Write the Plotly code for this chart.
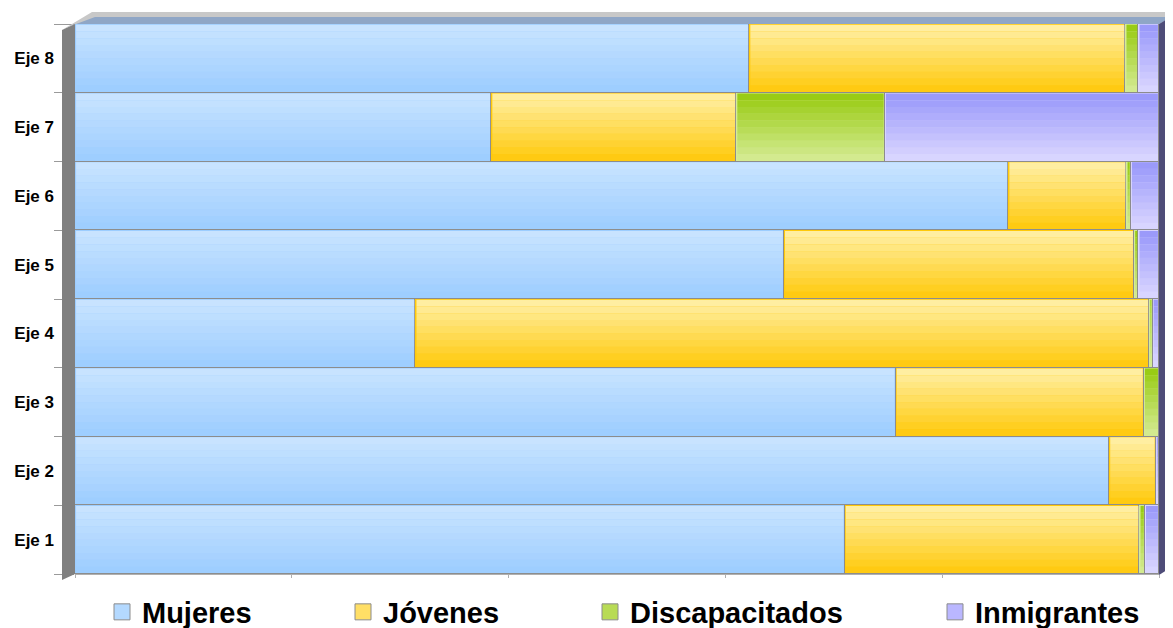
import plotly.graph_objects as go

# share of each group per axis (percent)
ejes = ["Eje 1", "Eje 2", "Eje 3", "Eje 4", "Eje 5", "Eje 6", "Eje 7", "Eje 8"]
mujeres = [71.0, 95.4, 75.7, 31.4, 65.4, 86.1, 38.4, 62.2]
jovenes = [27.2, 4.3, 22.9, 67.7, 32.3, 10.9, 22.6, 34.7]
discapacitados = [0.5, 0.0, 1.4, 0.3, 0.4, 0.4, 13.7, 1.2]
inmigrantes = [1.3, 0.3, 0.0, 0.6, 1.9, 2.6, 25.3, 1.9]

# name, values, bottom colour, top colour, legend colour, legend id, legend left (px)
series = [
    ("Mujeres", mujeres, "#9CCDFF", "#CAE4FF", "#B4D9FF", "legend", 102),
    ("Jóvenes", jovenes, "#FFC90A", "#FFF0AA", "#FFDF66", "legend2", 343),
    ("Discapacitados", discapacitados, "#D6EC96", "#96CA0E", "#B8DB55", "legend3", 590),
    ("Inmigrantes", inmigrantes, "#DCD8FF", "#9797FA", "#BAB7FF", "legend4", 935),
]

# the page puts the figure 8px in from the top-left corner
OFF = 8
RIGHT = 1159  # right end of the bars, in page pixels
W, H = 1173 - OFF, 628 - OFF
L, R, T = 75 - OFF, W - (RIGHT - OFF), 24 - OFF
B = H - (574 - OFF)

fig = go.Figure()
for name, vals, c_bot, c_top, c_leg, leg, lx in series:
    fig.add_trace(go.Bar(
        y=ejes, x=vals, name=name, orientation="h",
        marker=dict(color=c_bot, line=dict(color="#8C8C8C", width=1)),
        showlegend=False, hoverinfo="name+x",
    ))
    # bigger square legend marker than the bar default
    fig.add_trace(go.Scatter(
        x=[None], y=[None], mode="markers", name=name, legend=leg,
        marker=dict(symbol="square", size=18, color=c_leg,
                    line=dict(color="#8C8C8C", width=1)),
    ))

legend_font = dict(family="Liberation Sans, Arial", size=29, color="black", weight="bold")
legends = {}
for name, vals, c_bot, c_top, c_leg, leg, lx in series:
    legends[leg] = dict(x=(lx - OFF) / W, y=(H - (612 - OFF)) / H,
                        xref="container", yref="container",
                        xanchor="left", yanchor="middle", orientation="h",
                        font=legend_font, bgcolor="rgba(0,0,0,0)")

# vertical gradient on each bar segment: thin strips of the top colour fading out
shapes = []
N = 10
starts = [0.0] * len(ejes)
for name, vals, c_bot, c_top, c_leg, leg, lx in series:
    for i, v in enumerate(vals):
        x0, x1 = starts[i], starts[i] + v
        starts[i] = x1
        if v < 0.25:
            continue
        for k in range(N):
            y_hi = i + 0.49 - k * 0.98 / N
            y_lo = y_hi - 0.98 / N
            shapes.append(dict(type="rect", xref="x", yref="y",
                               x0=x0 + 0.1, x1=x1 - 0.1, y0=y_lo, y1=y_hi,
                               fillcolor=c_top, opacity=1 - (k + 0.5) / N,
                               line_width=0, layer="above"))


def px(x, y):
    # page pixel -> paper coords
    x, y = x - OFF, y - OFF
    return (x - L) / (W - L - R), (H - B - y) / (H - T - B)


def poly(points):
    pts = [px(x, y) for x, y in points]
    return "M " + " L ".join(f"{a:.5f},{b:.5f}" for a, b in pts) + " Z"


shapes += [
    # back wall strip on top
    dict(type="path", path=poly([(62, 30), (92, 12), (1173, 12), (1173, 18), (75, 24)]),
         xref="paper", yref="paper", fillcolor="#C8C8C8", line_width=0, layer="above"),
    dict(type="path", path=poly([(68, 27), (95, 17), (1173, 17), (RIGHT, 24), (75, 24)]),
         xref="paper", yref="paper", fillcolor="#8FA6C6", line_width=0, layer="above"),
    # left wall
    dict(type="path", path=poly([(62, 30), (75, 24), (75, 574), (62, 580)]),
         xref="paper", yref="paper", fillcolor="#808080", line_width=0, layer="above"),
    # right side
    dict(type="path", path=poly([(RIGHT, 24), (1173, 16), (1173, 566), (RIGHT, 575)]),
         xref="paper", yref="paper", fillcolor="#4E4C78", line_width=0, layer="above"),
]

fig.update_layout(
    barmode="stack", bargap=0,
    width=W, height=H,
    margin=dict(l=L, r=R, t=T, b=B, autoexpand=False),
    plot_bgcolor="white", paper_bgcolor="white",
    shapes=shapes,
    **legends,
)
fig.update_xaxes(range=[0, 100], showticklabels=False, showgrid=False, zeroline=False,
                 ticks="outside", ticklen=3, tickcolor="#B0B0B0", dtick=20,
                 showline=True, linecolor="#B0B0B0", automargin=False)
fig.update_yaxes(categoryorder="array", categoryarray=ejes, showgrid=False,
                 ticks="outside", tickson="boundaries", ticklen=20, tickcolor="#9A9A9A",
                 ticklabelstandoff=20, automargin=False,
                 tickfont=dict(family="Liberation Sans, Arial", size=17, color="black", weight="bold"))

fig.write_html("out.html")
